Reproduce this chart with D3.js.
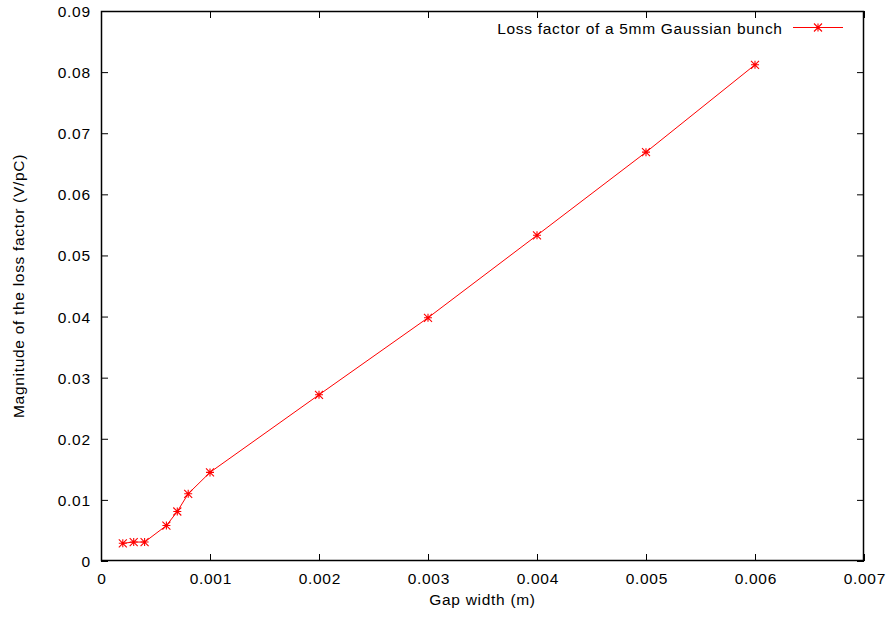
<!DOCTYPE html>
<html><head><meta charset="utf-8">
<script src="https://cdn.jsdelivr.net/npm/d3@7"></script>
<style>body{margin:0;background:#fff}svg{display:block}text{font-family:"Liberation Sans",Arial,sans-serif}</style>
</head><body><svg width="890" height="621"></svg>
<script>
const gapWidth = [0.0002, 0.0003, 0.0004, 0.0006, 0.0007, 0.0008, 0.001, 0.002, 0.003, 0.004, 0.005, 0.006];
const lossFactor = [0.0029, 0.0031, 0.0031, 0.0058, 0.0081, 0.0110, 0.0145, 0.0272, 0.0398, 0.0533, 0.0669, 0.0812];
const xTicks = [0, 0.001, 0.002, 0.003, 0.004, 0.005, 0.006, 0.007];
const yTicks = [0, 0.01, 0.02, 0.03, 0.04, 0.05, 0.06, 0.07, 0.08, 0.09];
const seriesName = "Loss factor of a 5mm Gaussian bunch";
const xLabel = "Gap width (m)";
const yLabel = "Magnitude of the loss factor (V/pC)";

const svg = d3.select("svg");
const L = 101, R = 864, T = 11, B = 561;
const x = d3.scaleLinear().domain([0, 0.007]).range([L, R]);
const y = d3.scaleLinear().domain([0, 0.09]).range([B, T]);
const fmt = d => d === 0 ? "0" : String(+d.toFixed(3));
const tl = 7;
const fs = 15.5;
const ls = 0.7;

const gx = svg.append("g").attr("transform", `translate(0,${B})`)
  .call(d3.axisBottom(x).tickValues(xTicks).tickFormat(fmt).tickSizeInner(-tl).tickSizeOuter(0).tickPadding(0));
const gxt = svg.append("g").attr("transform", `translate(0,${T})`)
  .call(d3.axisTop(x).tickValues(xTicks).tickFormat("").tickSizeInner(-tl).tickSizeOuter(0));
const gy = svg.append("g").attr("transform", `translate(${L},0)`)
  .call(d3.axisLeft(y).tickValues(yTicks).tickFormat(fmt).tickSizeInner(-tl).tickSizeOuter(0).tickPadding(0));
const gyr = svg.append("g").attr("transform", `translate(${R},0)`)
  .call(d3.axisRight(y).tickValues(yTicks).tickFormat("").tickSizeInner(-tl).tickSizeOuter(0));
[gx, gxt, gy, gyr].forEach(g => {
  g.select(".domain").remove();
  g.selectAll("line").attr("stroke", "#000").attr("stroke-width", 1);
  g.selectAll("text").attr("font-size", fs).attr("fill", "#000")
    .attr("letter-spacing", ls).attr("font-family", '"Liberation Sans",Arial,sans-serif');
});
gx.selectAll("text").attr("y", 23).attr("dy", null).attr("dx", ls / 2);
gy.selectAll("text").attr("x", -11 + ls).attr("dy", null).attr("y", 5.5);

svg.append("rect").attr("x", L + 0.5).attr("y", T + 0.5).attr("width", R - L - 1).attr("height", B - T - 1)
  .attr("fill", "none").attr("stroke", "#000").attr("stroke-width", 1.5);

svg.append("text").attr("x", (L + R) / 2).attr("y", 604.5).attr("text-anchor", "middle")
  .attr("font-size", fs).attr("letter-spacing", ls).text(xLabel);
svg.append("text").attr("transform", `translate(24,${(T + B) / 2}) rotate(-90)`).attr("text-anchor", "middle")
  .attr("font-size", fs).attr("letter-spacing", ls).text(yLabel);

const pts = gapWidth.map((g, i) => [g, lossFactor[i]]);
const line = d3.line().x(d => x(d[0])).y(d => y(d[1]));
svg.append("path").datum(pts).attr("d", line).attr("fill", "none").attr("stroke", "#ff0000").attr("stroke-width", 1);

function star(sel, cx, cy, s) {
  const p = `M${cx - s},${cy}L${cx + s},${cy}M${cx},${cy - s}L${cx},${cy + s}M${cx - s},${cy - s}L${cx + s},${cy + s}M${cx - s},${cy + s}L${cx + s},${cy - s}`;
  sel.append("path").attr("d", p).attr("stroke", "#ff0000").attr("stroke-width", 1.1).attr("fill", "none");
}
const mg = svg.append("g");
pts.forEach(d => star(mg, x(d[0]), y(d[1]), 4));

const ly = 27.5;
svg.append("text").attr("x", 782 + ls).attr("y", 33.5).attr("text-anchor", "end")
  .attr("font-size", fs).attr("letter-spacing", ls).text(seriesName);
svg.append("line").attr("x1", 793).attr("x2", 843).attr("y1", ly).attr("y2", ly).attr("stroke", "#ff0000");
star(svg, 818, ly, 4);
</script></body></html>
